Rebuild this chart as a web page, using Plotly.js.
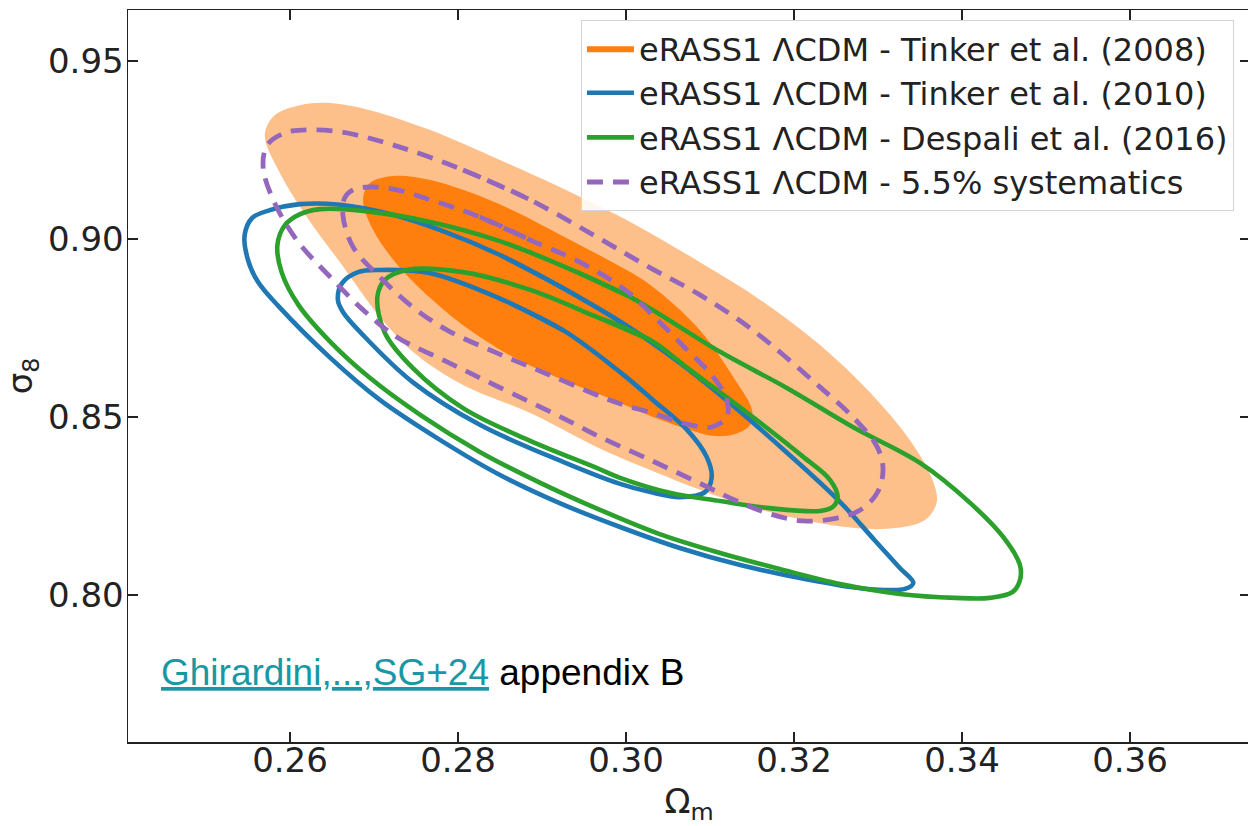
<!DOCTYPE html>
<html><head><meta charset="utf-8">
<script src="https://cdn.plot.ly/plotly-3.0.1.min.js"></script>
<style>html,body{margin:0;padding:0;overflow:hidden;background:#fff}#chart{width:1250px;height:826px}</style>
</head><body><div id="chart"></div>
<script>
// Tinker et al. (2008) filled contours (Omega_m, sigma_8)
const t08OuterOm = [0.2570,0.2582,0.2612,0.2648,0.2695,0.2767,0.2850,0.2921,0.3005,0.3088,0.3160,0.3231,0.3290,0.3338,0.3364,0.3370,0.3356,0.3320,0.3273,0.3195,0.3112,0.3029,0.2965,0.2886,0.2806,0.2751,0.2707,0.2660,0.2620,0.2588];
const t08OuterS8 = [0.9292,0.9348,0.9376,0.9382,0.9362,0.9306,0.9222,0.9146,0.9048,0.8935,0.8829,0.8702,0.8570,0.8435,0.8329,0.8261,0.8211,0.8188,0.8188,0.8219,0.8275,0.8351,0.8416,0.8511,0.8590,0.8674,0.8781,0.8933,0.9062,0.9185];
const t08InnerOm = [0.2687,0.2695,0.2723,0.2767,0.2806,0.2865,0.2925,0.2985,0.3029,0.3088,0.3130,0.3150,0.3148,0.3130,0.3102,0.3073,0.3032,0.2985,0.2925,0.2865,0.2806,0.2767,0.2727,0.2699];
const t08InnerS8 = [0.9110,0.9157,0.9177,0.9166,0.9138,0.9081,0.9008,0.8933,0.8871,0.8744,0.8604,0.8520,0.8478,0.8452,0.8447,0.8466,0.8500,0.8548,0.8604,0.8669,0.8758,0.8834,0.8930,0.9025];
// Tinker et al. (2010)
const t10OuterOm = [0.2546,0.2555,0.2576,0.2612,0.2660,0.2719,0.2779,0.2850,0.2925,0.3005,0.3064,0.3124,0.3192,0.3255,0.3296,0.3326,0.3342,0.3332,0.3308,0.3270,0.3207,0.3136,0.3064,0.2993,0.2921,0.2850,0.2779,0.2707,0.2648,0.2586,0.2562,0.2550];
const t10OuterS8 = [0.9011,0.9059,0.9081,0.9098,0.9096,0.9070,0.9025,0.8955,0.8862,0.8750,0.8652,0.8539,0.8399,0.8261,0.8154,0.8076,0.8034,0.8017,0.8014,0.8022,0.8048,0.8084,0.8132,0.8191,0.8258,0.8337,0.8435,0.8548,0.8666,0.8812,0.8879,0.8941];
const t10InnerOm = [0.2657,0.2662,0.2681,0.2707,0.2767,0.2846,0.2925,0.2993,0.3032,0.3073,0.3096,0.3102,0.3094,0.3064,0.3029,0.2993,0.2925,0.2826,0.2746,0.2687,0.2663];
const t10InnerS8 = [0.8829,0.8876,0.8907,0.8913,0.8904,0.8837,0.8744,0.8626,0.8548,0.8463,0.8388,0.8331,0.8289,0.8275,0.8289,0.8312,0.8374,0.8478,0.8598,0.8730,0.8795];
// Despali et al. (2016)
const d16OuterOm = [0.2585,0.2594,0.2612,0.2636,0.2687,0.2767,0.2846,0.2925,0.3005,0.3112,0.3192,0.3270,0.3350,0.3410,0.3449,0.3469,0.3469,0.3460,0.3433,0.3392,0.3326,0.3255,0.3183,0.3112,0.3040,0.2969,0.2898,0.2826,0.2755,0.2695,0.2648,0.2610,0.2590];
const d16OuterS8 = [0.8983,0.9039,0.9070,0.9084,0.9079,0.9048,0.8997,0.8924,0.8837,0.8683,0.8581,0.8472,0.8371,0.8258,0.8163,0.8084,0.8042,0.8008,0.7992,0.7992,0.8003,0.8031,0.8073,0.8118,0.8171,0.8239,0.8315,0.8402,0.8506,0.8610,0.8711,0.8815,0.8907];
const d16InnerOm = [0.2704,0.2713,0.2739,0.2806,0.2886,0.2965,0.3029,0.3073,0.3151,0.3211,0.3243,0.3252,0.3246,0.3231,0.3171,0.3112,0.3052,0.2993,0.2965,0.2886,0.2806,0.2746,0.2713];
const d16InnerS8 = [0.8837,0.8885,0.8913,0.8907,0.8857,0.8781,0.8716,0.8638,0.8500,0.8388,0.8323,0.8275,0.8247,0.8236,0.8244,0.8264,0.8287,0.8329,0.8357,0.8433,0.8525,0.8638,0.8736];
// 5.5% systematics
const sysOuterOm = [0.2568,0.2573,0.2594,0.2615,0.2660,0.2727,0.2806,0.2886,0.2965,0.3029,0.3088,0.3151,0.3231,0.3270,0.3299,0.3306,0.3299,0.3279,0.3251,0.3211,0.3171,0.3132,0.3092,0.3032,0.2969,0.2925,0.2846,0.2787,0.2727,0.2687,0.2648,0.2608,0.2580];
const sysOuterS8 = [0.9202,0.9264,0.9298,0.9306,0.9301,0.9261,0.9194,0.9110,0.9006,0.8919,0.8843,0.8744,0.8584,0.8500,0.8416,0.8351,0.8287,0.8239,0.8216,0.8208,0.8228,0.8264,0.8309,0.8376,0.8444,0.8497,0.8587,0.8655,0.8725,0.8801,0.8893,0.8997,0.9110];
const sysInnerOm = [0.2663,0.2665,0.2675,0.2695,0.2727,0.2767,0.2826,0.2886,0.2945,0.2999,0.3035,0.3073,0.3104,0.3120,0.3120,0.3102,0.3073,0.3032,0.2993,0.2965,0.2906,0.2846,0.2787,0.2746,0.2707,0.2675];
const sysInnerS8 = [0.9067,0.9115,0.9138,0.9146,0.9138,0.9110,0.9062,0.8997,0.8935,0.8857,0.8778,0.8688,0.8612,0.8548,0.8500,0.8472,0.8480,0.8511,0.8537,0.8562,0.8621,0.8680,0.8744,0.8809,0.8893,0.8978];

const legendNames = ['eRASS1 ΛCDM - Tinker et al. (2008)','eRASS1 ΛCDM - Tinker et al. (2010)','eRASS1 ΛCDM - Despali et al. (2016)','eRASS1 ΛCDM - 5.5% systematics'];
const xTickVals = [0.26,0.28,0.30,0.32,0.34,0.36];
const yTickVals = [0.80,0.85,0.90,0.95];

// close a contour, starting the path at index k (a smooth part of the curve)
const loop = (a, k) => a.slice(k).concat(a.slice(0, k + 2));
const FONT = 'DejaVu Sans, Verdana, sans-serif';

const traces = [
  {x: loop(t08OuterOm, 7), y: loop(t08OuterS8, 7), mode:'lines', fill:'toself', fillcolor:'#fec08b',
   line:{width:0, shape:'spline', color:'#fec08b'}, legendgroup:'t08', showlegend:false, hoverinfo:'skip'},
  {x: loop(t08InnerOm, 6), y: loop(t08InnerS8, 6), mode:'lines', fill:'toself', fillcolor:'#ff7f0e',
   line:{width:0, shape:'spline', color:'#ff7f0e'}, legendgroup:'t08', name:legendNames[0]},
  {x: loop(t10OuterOm, 7), y: loop(t10OuterS8, 7), mode:'lines', line:{width:4.6, shape:'spline', color:'#1f77b4'},
   legendgroup:'t10', name:legendNames[1]},
  {x: loop(t10InnerOm, 5), y: loop(t10InnerS8, 5), mode:'lines', line:{width:4.6, shape:'spline', color:'#1f77b4'},
   legendgroup:'t10', showlegend:false},
  {x: loop(d16OuterOm, 7), y: loop(d16OuterS8, 7), mode:'lines', line:{width:4.6, shape:'spline', color:'#2ca02c'},
   legendgroup:'d16', name:legendNames[2]},
  {x: loop(d16InnerOm, 5), y: loop(d16InnerS8, 5), mode:'lines', line:{width:4.6, shape:'spline', color:'#2ca02c'},
   legendgroup:'d16', showlegend:false},
  {x: loop(sysOuterOm, 6), y: loop(sysOuterS8, 6), mode:'lines',
   line:{width:4.8, shape:'spline', color:'#9467bd', dash:'16px,10px'}, legendgroup:'sys', name:legendNames[3]},
  {x: loop(sysInnerOm, 6), y: loop(sysInnerS8, 6), mode:'lines',
   line:{width:4.8, shape:'spline', color:'#9467bd', dash:'16px,10px'}, legendgroup:'sys', showlegend:false}
];

const axisCommon = {
  ticks:'inside', ticklen:10, tickwidth:1.5, tickcolor:'#222',
  showline:true, linecolor:'#222', linewidth:1.5, mirror:'ticks',
  showgrid:false, zeroline:false,
  tickfont:{family:FONT, size:34, color:'#222'}
};

const layout = {
  width:1250, height:826,
  margin:{l:128, r:0, t:10, b:84},
  paper_bgcolor:'#fff', plot_bgcolor:'#fff',
  xaxis: Object.assign({}, axisCommon, {
    range:[0.240714, 0.374286], tickvals:xTickVals, tickformat:'.2f', ticklabelstandoff:-12,
    title:{text:'Ω<sub>m</sub>', standoff:30, font:{family:FONT, size:34, color:'#222'}}
  }),
  yaxis: Object.assign({}, axisCommon, {
    range:[0.758708, 0.964326], tickvals:yTickVals, tickformat:'.2f', ticklabelstandoff:-4,
    title:{text:'σ<sub>8</sub>', standoff:26, font:{family:FONT, size:34, color:'#222'}}
  }),
  showlegend:true,
  legend:{x:0.4037, xanchor:'left', y:0.9865, yanchor:'top',
    bgcolor:'rgba(255,255,255,0.85)', bordercolor:'#d4d4d4', borderwidth:1,
    font:{family:FONT, size:32, color:'#222'}, tracegroupgap:0, itemwidth:47},
  annotations:[{
    xref:'x', yref:'y', x:0.24440, y:0.77837, xanchor:'left', yanchor:'middle', showarrow:false,
    text:'<span style="color:#1898a4;text-decoration:underline">Ghirardini,...,SG+24</span> appendix B',
    font:{family:'Liberation Sans, Arial, sans-serif', size:37, color:'#000'}
  }]
};

Plotly.newPlot('chart', traces, layout, {staticPlot:true, displayModeBar:false});
</script></body></html>
